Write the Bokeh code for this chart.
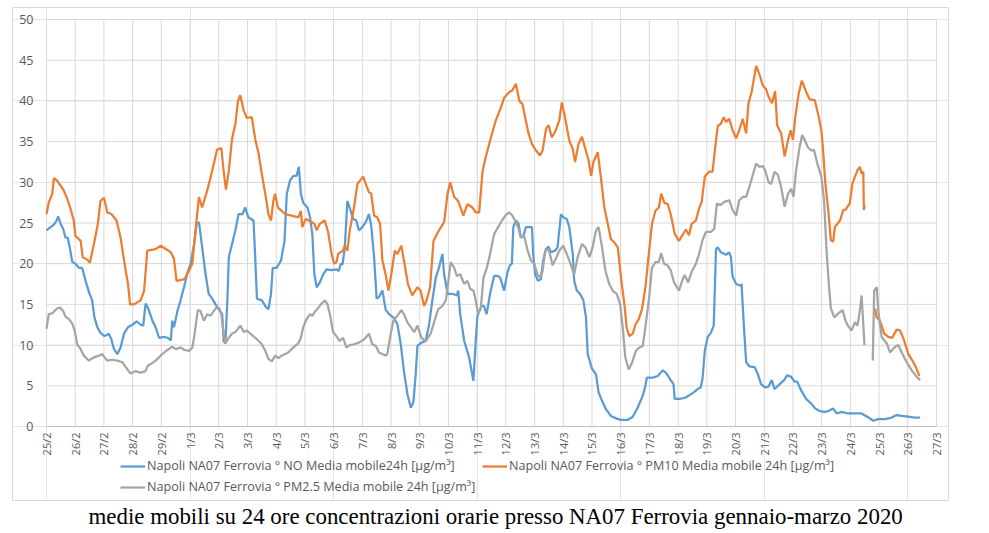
import math
from bokeh.plotting import figure
from bokeh.models import Legend, LegendItem, Range1d, Title
from bokeh.core.properties import value
from bokeh.embed import file_html
from bokeh.resources import INLINE

NAN = float("nan")

# Tick labels (one per day, 25/2 .. 27/3, 2020)
date_labels = ["25/2", "26/2", "27/2", "28/2", "29/2", "1/3", "2/3", "3/3", "4/3", "5/3",
               "6/3", "7/3", "8/3", "9/3", "10/3", "11/3", "12/3", "13/3", "14/3", "15/3",
               "16/3", "17/3", "18/3", "19/3", "20/3", "21/3", "22/3", "23/3", "24/3", "25/3",
               "26/3", "27/3"]
day_ticks = list(range(len(date_labels)))
y_ticks = [0, 5, 10, 15, 20, 25, 30, 35, 40, 45, 50]
y_tick_labels = ["0", "5", "10", "15", "20", "25", "30", "35", "40", "45", "50"]

# NO moving average (days since 25/2, value)
no_days = [0, 0.14, 0.26, 0.35, 0.41, 0.49, 0.58, 0.66, 0.74, 0.81, 0.9, 1.01, 1.13, 1.24, 1.36, 1.48,
           1.59, 1.67, 1.77, 1.88, 2.02, 2.17, 2.26, 2.35, 2.47, 2.58, 2.7, 2.84, 2.99, 3.14, 3.28,
           3.37, 3.45, 3.53, 3.69, 3.8, 3.92, 4.09, 4.21, 4.33, 4.38, 4.44, 4.56, 4.67, 4.79, 4.91,
           5.02, 5.14, 5.23, 5.31, 5.43, 5.54, 5.65, 5.77, 5.89, 6.0, 6.12, 6.17, 6.23, 6.3, 6.35,
           6.46, 6.58, 6.69, 6.83, 6.92, 7.03, 7.21, 7.27, 7.33, 7.5, 7.64, 7.73, 7.82, 7.88, 8.02,
           8.17, 8.29, 8.37, 8.48, 8.6, 8.71, 8.79, 8.86, 8.94, 9.09, 9.18, 9.26, 9.33, 9.41, 9.52,
           9.64, 9.75, 9.93, 10.1, 10.18, 10.25, 10.31, 10.39, 10.48, 10.56, 10.68, 10.79, 10.88,
           11.0, 11.12, 11.23, 11.31, 11.41, 11.5, 11.58, 11.7, 11.81, 11.93, 12.08, 12.22, 12.34,
           12.45, 12.57, 12.69, 12.78, 12.86, 12.92, 13.06, 13.21, 13.33, 13.44, 13.56, 13.67,
           13.79, 13.85, 13.97, 14.14, 14.29, 14.34, 14.41, 14.55, 14.72, 14.87, 14.95, 15.01,
           15.15, 15.24, 15.33, 15.45, 15.59, 15.71, 15.8, 15.94, 16.06, 16.14, 16.21, 16.26,
           16.35, 16.44, 16.52, 16.6, 16.7, 16.79, 16.91, 16.95, 17.02, 17.12, 17.22, 17.3, 17.4,
           17.49, 17.57, 17.72, 17.8, 17.92, 18.0, 18.12, 18.21, 18.33, 18.38, 18.47, 18.58, 18.7,
           18.79, 18.85, 19.0, 19.14, 19.23, 19.37, 19.49, 19.66, 19.84, 20.01, 20.24, 20.42,
           20.59, 20.77, 20.86, 20.91, 21.12, 21.29, 21.47, 21.58, 21.74, 21.84, 21.88, 22.03,
           22.23, 22.38, 22.54, 22.68, 22.79, 22.85, 22.93, 23.03, 23.14, 23.24, 23.32, 23.38,
           23.49, 23.67, 23.78, 23.84, 23.9, 24.02, 24.17, 24.21, 24.28, 24.37, 24.48, 24.66,
           24.77, 24.89, 25.03, 25.15, 25.26, 25.36, 25.54, 25.69, 25.8, 25.94, 26.06, 26.15,
           26.29, 26.46, 26.64, 26.78, 26.93, 27.1, 27.23, 27.4, 27.52, 27.69, 27.93, 28.16,
           28.39, 28.63, 28.8, 28.97, 29.21, 29.44, 29.61, 29.79, 30.02, 30.25, 30.43]
no_vals = [24.1, 24.5, 24.8, 25.3, 25.8, 24.9, 24.3, 23.2, 23.2, 22.0, 20.2, 20.0, 19.5, 19.5, 17.9, 16.5,
           15.5, 13.4, 12.2, 11.5, 11.1, 11.4, 10.7, 9.5, 8.9, 9.7, 11.4, 12.2, 12.5, 12.9, 12.5,
           12.4, 15.1, 14.6, 13.0, 12.2, 10.9, 11.0, 10.9, 10.6, 13.0, 12.2, 14.2, 15.5, 17.1, 18.9,
           20.0, 22.4, 24.9, 25.1, 21.8, 18.7, 16.3, 15.7, 15.0, 14.4, 13.8, 10.5, 10.2, 15.5, 20.8,
           22.4, 24.1, 26.1, 26.1, 26.9, 25.7, 25.3, 20.8, 15.7, 15.5, 14.7, 14.4, 16.3, 19.5, 19.5,
           20.4, 22.8, 28.6, 30.2, 30.8, 30.8, 31.9, 28.6, 27.5, 26.9, 25.7, 23.6, 18.7, 17.1, 17.7,
           18.7, 19.3, 19.2, 19.3, 19.1, 20.0, 19.9, 22.0, 27.7, 26.9, 25.5, 25.3, 24.1,
           24.5, 25.1, 26.1, 24.7, 20.8, 15.7, 15.9, 16.7, 14.4, 13.8, 13.4, 12.6, 10.1,
           6.8, 4.0, 2.3, 3.0, 6.4, 9.9, 10.3, 10.5, 12.6, 15.5, 18.3, 19.5,
           21.2, 18.7, 16.3, 16.3, 16.1, 16.7, 13.8, 10.5, 8.5, 5.6, 10.5, 13.6,
           14.8, 14.8, 13.8, 16.3, 18.5, 18.5, 18.3, 16.7, 19.0, 19.8, 20.0, 24.5,
           25.3, 24.9, 23.3, 23.3, 24.5, 24.5, 24.5, 21.2, 18.7, 17.9, 18.1, 20.4, 21.8,
           22.1, 21.4, 21.6, 22.0, 26.1, 25.7, 25.5, 24.5, 21.2, 17.9, 16.7, 16.3, 15.5,
           13.4, 8.9, 7.1, 6.4, 4.2, 3.0, 2.1, 1.3, 1.0, 0.8, 0.8, 1.2,
           2.3, 3.8, 5.0, 6.0, 6.0, 6.2, 6.9, 6.6, 5.7, 5.2, 3.4, 3.4,
           3.5, 3.8, 4.2, 4.6, 4.8, 5.9, 9.3, 11.0, 11.5, 12.4, 21.8, 22.0,
           21.4, 21.1, 21.4, 20.8, 18.4, 17.5, 17.3, 17.5, 13.0, 7.9, 7.4, 7.3,
           6.5, 5.2, 4.8, 4.9, 5.7, 4.6, 5.2, 5.7, 6.3, 6.1, 5.5, 5.5,
           4.4, 3.4, 2.8, 2.2, 1.9, 1.8, 1.9, 2.2, 1.6, 1.8, 1.6, 1.6,
           1.6, 1.1, 0.7, 0.9, 0.9, 1.1, 1.4, 1.3, 1.2, 1.1, 1.1]

# PM10 moving average
pm10_days = [0, 0.08, 0.2, 0.26, 0.37, 0.49, 0.6, 0.72, 0.84, 0.95, 1.01, 1.19, 1.26, 1.42, 1.51, 1.65,
             1.79, 1.88, 2.0, 2.12, 2.26, 2.44, 2.58, 2.76, 2.84, 2.91, 3.05, 3.28, 3.4, 3.51, 3.8,
             3.98, 4.33, 4.44, 4.53, 4.81, 5.08, 5.2, 5.31, 5.42, 5.6, 5.77, 5.94, 6.09, 6.17, 6.25,
             6.35, 6.46, 6.58, 6.67, 6.75, 6.87, 6.98, 7.15, 7.27, 7.39, 7.5, 7.62, 7.73, 7.82, 7.9,
             7.96, 8.06, 8.19, 8.31, 8.54, 8.77, 8.86, 8.91, 9.03, 9.21, 9.33, 9.41, 9.52, 9.69,
             9.81, 9.93, 10.02, 10.1, 10.16, 10.33, 10.39, 10.48, 10.56, 10.71, 10.83, 11.03, 11.12,
             11.23, 11.31, 11.41, 11.52, 11.62, 11.7, 11.81, 11.91, 12.01, 12.13, 12.22, 12.36,
             12.45, 12.59, 12.74, 12.92, 13.03, 13.15, 13.24, 13.36, 13.48, 13.67, 13.85, 13.97,
             14.06, 14.2, 14.34, 14.52, 14.66, 14.84, 14.95, 15.07, 15.19, 15.3, 15.48, 15.65,
             15.83, 15.94, 16.12, 16.23, 16.35, 16.47, 16.58, 16.67, 16.79, 16.91, 17.05, 17.19,
             17.28, 17.4, 17.49, 17.6, 17.74, 17.86, 17.95, 18.07, 18.21, 18.33, 18.41, 18.53,
             18.65, 18.77, 18.88, 18.97, 19.05, 19.2, 19.31, 19.43, 19.55, 19.66, 19.78, 19.9,
             20.01, 20.13, 20.21, 20.3, 20.42, 20.51, 20.63, 20.74, 20.86, 20.98, 21.09, 21.21,
             21.33, 21.41, 21.52, 21.64, 21.74, 21.88, 22.03, 22.15, 22.27, 22.38, 22.47, 22.62,
             22.73, 22.82, 22.93, 23.08, 23.2, 23.28, 23.38, 23.49, 23.59, 23.67, 23.78, 23.9,
             24.02, 24.13, 24.25, 24.37, 24.45, 24.56, 24.72, 24.83, 24.95, 25.07, 25.15, 25.27,
             25.38, 25.45, 25.59, 25.71, 25.83, 25.92, 26.0, 26.08, 26.2, 26.31, 26.46, 26.58,
             26.76, 26.9, 26.99, 27.05, 27.13, 27.23, 27.32, 27.4, 27.46, 27.64, 27.75, 27.83,
             27.98, 28.07, 28.16, 28.25, 28.33, 28.39, 28.45, 28.47, 28.5, NAN,
             28.86, 28.92, 29.03, 29.18, 29.32, 29.46, 29.61, 29.73, 29.85, 30.02, 30.16, 30.28,
             30.39, 30.43]
pm10_vals = [26.1, 27.5, 28.6, 30.5, 30.2, 29.6, 29.0, 28.0, 26.7, 25.3, 23.4, 22.8, 20.8, 20.5, 20.1, 22.4,
             24.9, 27.7, 28.1, 26.3, 26.1, 25.3, 23.2, 19.1, 17.5, 15.0, 15.0, 15.5, 16.7, 21.6, 21.8,
             22.2, 21.4, 20.6, 17.9, 18.1, 20.0, 24.5, 28.2, 26.9, 29.0, 31.4, 34.0, 34.2, 31.4, 29.1,
             31.4, 35.3, 37.2, 40.0, 40.7, 38.8, 37.9, 38.0, 35.3, 33.5, 31.0, 28.6, 26.1, 25.3, 27.7,
             28.6, 26.9, 26.5, 26.1, 25.9, 25.7, 26.5, 24.5, 25.5, 25.2, 24.9, 24.1, 24.9, 25.3,
             23.9, 21.2, 20.0, 20.2, 21.2, 21.6, 22.2, 21.6, 24.0, 26.9, 29.8, 30.7, 29.8,
             28.8, 28.6, 25.9, 25.7, 24.9, 20.4, 18.7, 16.7, 18.7, 21.6, 21.2, 22.2,
             20.4, 17.5, 16.1, 17.1, 16.7, 14.8, 15.5, 17.1, 22.8, 24.1, 25.1, 28.6,
             30.0, 28.2, 27.7, 25.9, 27.3, 26.9, 26.3, 26.3, 31.4, 33.1, 35.5, 37.6,
             39.2, 40.4, 41.1, 41.3, 42.1, 40.0, 39.6, 38.0, 36.0, 34.7, 33.9, 33.3,
             33.9, 36.6, 37.0, 35.5, 36.4, 37.6, 39.8, 37.8, 35.1, 34.1, 32.5, 34.7,
             35.6, 34.1, 32.7, 30.8, 32.5, 33.7, 30.6, 26.9, 24.9, 23.0, 22.6, 22.0,
             18.3, 15.0, 12.1, 11.1, 11.4, 12.5, 13.2, 14.4, 17.1, 21.2, 24.9, 26.5,
             26.9, 28.6, 27.5, 27.3, 26.1, 23.7, 22.8, 23.5, 24.2, 23.5, 24.9, 25.3,
             26.8, 27.6, 30.7, 31.3, 31.3, 33.9, 36.9, 37.2, 38.0, 37.4, 37.8, 36.4,
             35.4, 36.4, 37.8, 36.0, 39.7, 41.1, 44.3, 43.3, 41.9, 41.4, 40.5, 39.7,
             41.2, 37.0, 36.0, 33.2, 35.2, 36.4, 35.2, 38.0, 40.9, 42.5, 41.1, 40.2,
             40.1, 38.0, 36.4, 33.9, 29.8, 26.6, 22.9, 22.7, 24.5, 25.3, 26.6, 26.6,
             27.4, 29.8, 30.7, 31.5, 31.9, 31.1, 31.3, 26.6, 27.2, NAN,
             14.5, 13.4, 13.0, 11.4, 11.0, 10.9, 11.9, 11.8, 10.8, 8.9, 8.1, 7.3,
             6.3, 6.3]

# PM2.5 moving average
pm25_days = [0, 0.08, 0.2, 0.28, 0.37, 0.47, 0.58, 0.66, 0.78, 0.9, 0.98, 1.07, 1.19, 1.3, 1.48, 1.65,
             1.83, 1.94, 2.0, 2.12, 2.29, 2.47, 2.64, 2.76, 2.93, 3.1, 3.28, 3.45, 3.53, 3.65, 3.8,
             3.92, 4.03, 4.21, 4.38, 4.5, 4.67, 4.81, 4.97, 5.08, 5.16, 5.27, 5.36, 5.48, 5.6, 5.71,
             5.83, 5.94, 6.02, 6.09, 6.17, 6.23, 6.35, 6.46, 6.58, 6.75, 6.87, 6.98, 7.1, 7.27, 7.39,
             7.5, 7.62, 7.73, 7.85, 7.96, 8.08, 8.19, 8.31, 8.42, 8.54, 8.66, 8.77, 8.86, 8.94, 9.06,
             9.18, 9.26, 9.35, 9.47, 9.58, 9.7, 9.79, 9.87, 9.98, 10.1, 10.21, 10.33, 10.45, 10.56,
             10.71, 10.88, 11.06, 11.23, 11.35, 11.47, 11.58, 11.7, 11.81, 11.87, 11.99, 12.08,
             12.22, 12.36, 12.45, 12.57, 12.69, 12.81, 12.92, 13.06, 13.21, 13.38, 13.5, 13.64,
             13.79, 13.91, 13.97, 14.08, 14.2, 14.29, 14.41, 14.55, 14.66, 14.76, 14.87, 14.95,
             15.03, 15.13, 15.22, 15.34, 15.45, 15.59, 15.73, 15.88, 16.0, 16.12, 16.23, 16.35,
             16.44, 16.52, 16.64, 16.76, 16.87, 16.99, 17.1, 17.19, 17.28, 17.37, 17.49, 17.63,
             17.74, 17.86, 18.0, 18.12, 18.23, 18.38, 18.5, 18.65, 18.77, 18.91, 19.02, 19.14,
             19.23, 19.35, 19.47, 19.6, 19.72, 19.86, 19.98, 20.07, 20.16, 20.28, 20.4, 20.53,
             20.65, 20.77, 20.86, 20.98, 21.09, 21.21, 21.33, 21.41, 21.51, 21.63, 21.74, 21.86,
             22.03, 22.15, 22.23, 22.35, 22.47, 22.62, 22.73, 22.85, 22.97, 23.14, 23.26, 23.35,
             23.47, 23.61, 23.78, 23.9, 24.02, 24.13, 24.25, 24.37, 24.48, 24.6, 24.72, 24.83,
             24.95, 25.03, 25.15, 25.24, 25.36, 25.48, 25.59, 25.71, 25.83, 25.94, 26.02, 26.11,
             26.23, 26.32, 26.41, 26.52, 26.64, 26.73, 26.85, 26.99, 27.08, 27.17, 27.25, 27.32,
             27.44, 27.58, 27.73, 27.83, 27.93, 28.04, 28.16, 28.25, 28.33, 28.39, 28.45, 28.49, NAN,
             28.78, 28.83, 28.92, 28.97, 29.09, 29.27, 29.38, 29.56, 29.67, 29.79, 29.96, 30.14,
             30.31, 30.43]
pm25_vals = [12.0, 13.8, 13.9, 14.2, 14.5, 14.6, 14.2, 13.5, 13.2, 12.6, 11.8, 10.1, 9.5, 8.7, 8.1, 8.5,
             8.7, 8.9, 8.6, 8.1, 8.2, 8.1, 7.9, 7.3, 6.5, 6.8, 6.6, 6.8, 7.5, 7.7, 8.1,
             8.5, 8.9, 9.4, 9.8, 9.5, 9.7, 9.4, 9.3, 9.7, 11.4, 14.3, 14.2, 13.0, 13.8, 13.6,
             14.2, 14.7, 14.5, 13.8, 11.4, 10.2, 10.9, 11.4, 11.6, 12.4, 11.6, 11.8, 11.4, 10.9, 10.5,
             10.1, 9.3, 8.3, 8.0, 8.7, 8.4, 8.7, 8.9, 9.1, 9.5, 9.9, 10.2, 10.9, 12.2, 13.2,
             13.8, 13.6, 14.1, 14.6, 15.1, 15.5, 15.0, 13.8, 11.6, 11.1, 10.5, 10.9, 9.7, 10.0,
             10.1, 10.3, 10.7, 11.4, 10.1, 9.9, 9.1, 8.9, 8.7, 8.9, 11.4, 13.0,
             13.6, 14.3, 13.8, 12.8, 12.2, 11.6, 12.4, 10.9, 10.5, 11.4, 12.8, 14.4,
             14.8, 15.5, 17.1, 20.2, 19.5, 18.5, 18.7, 17.5, 17.9, 16.9, 16.7, 15.5,
             13.8, 14.6, 18.3, 19.5, 21.2, 23.6, 24.5, 25.4, 26.0, 26.3, 25.9, 25.1,
             24.3, 23.2, 23.4, 21.6, 20.4, 20.0, 18.7, 18.3, 19.1, 21.6, 21.8, 19.8,
             20.6, 21.6, 22.2, 21.2, 20.2, 18.7, 20.8, 22.4, 22.0, 20.8, 22.0, 24.1,
             24.5, 22.0, 19.1, 17.5, 16.7, 16.3, 15.0, 12.2, 8.5, 7.0, 7.9, 9.3,
             9.7, 9.9, 12.2, 15.5, 19.5, 20.2, 20.2, 21.3, 20.0, 19.8, 19.2, 17.7,
             16.7, 18.0, 18.6, 17.7, 19.0, 20.0, 21.2, 22.9, 23.9, 23.9, 24.3, 27.4,
             27.2, 27.6, 27.8, 26.6, 25.9, 27.8, 28.2, 28.2, 29.4, 30.9, 32.3, 31.9,
             32.0, 31.5, 30.0, 29.8, 31.3, 30.9, 29.4, 27.0, 28.6, 29.2, 28.2, 31.5,
             34.3, 35.8, 35.2, 34.3, 33.9, 34.0, 32.3, 30.7, 28.0, 21.6, 17.5, 14.5,
             13.4, 13.9, 14.3, 13.0, 12.3, 11.8, 12.8, 12.4, 14.3, 16.1, 12.6, 10.0, NAN,
             8.1, 16.7, 17.1, 14.3, 11.0, 10.2, 9.1, 9.8, 10.0, 9.1, 7.9, 6.9,
             6.1, 5.7]

series_labels = ["Napoli NA07 Ferrovia ° NO Media mobile24h [μg/m³]",
                 "Napoli NA07 Ferrovia ° PM10 Media mobile 24h [μg/m³]",
                 "Napoli NA07 Ferrovia ° PM2.5 Media mobile 24h [μg/m³]"]
caption_text = "medie mobili su 24 ore concentrazioni orarie presso NA07 Ferrovia gennaio-marzo 2020"

BLUE, ORANGE, GRAY = "#5b9bd5", "#ed7d31", "#a5a5a5"
TXT = "#595959"
GRID = "#d9d9d9"
FONT = "Open Sans"

# Layout geometry (pixels): chart box 12..948 x 7..500, plot area 46..936 x 19..426
PXD = 890.0 / 31          # px per day
PXV = 407.0 / 50          # px per unit
x_start, x_end = -(46 - 12) / PXD, (948 - 46) / PXD
y_start, y_end = -(500 - 426) / PXV, (426 - 7) / PXV

p = figure(width=970, height=532, x_range=Range1d(x_start, x_end), y_range=Range1d(y_start, y_end),
           output_backend="svg", toolbar_location=None,
           x_axis_location=None, y_axis_location=None,
           min_border_left=12, min_border_right=22, min_border_top=7, min_border_bottom=32)
p.outline_line_color = GRID
p.outline_line_width = 1
p.background_fill_color = "white"
p.border_fill_color = "white"

x0, x1 = day_ticks[0], day_ticks[-1]
y0, y1 = y_ticks[0], y_ticks[-1]
# gridlines
p.segment(x0=day_ticks, y0=[y0] * len(day_ticks), x1=day_ticks, y1=[y1] * len(day_ticks),
          line_color=GRID, line_width=1)
p.segment(x0=[x0] * len(y_ticks), y0=y_ticks, x1=[x1] * len(y_ticks), y1=y_ticks,
          line_color=GRID, line_width=1)
# category axis line
p.segment(x0=[x0], y0=[y0], x1=[x1], y1=[y0], line_color="#bfbfbf", line_width=1)

# tick labels
p.text(x=[x0] * len(y_ticks), y=y_ticks, text=y_tick_labels, x_offset=-13,
       text_align="right", text_baseline="middle",
       text_font=value(FONT), text_font_size="12.5px", text_color=TXT)
p.text(x=day_ticks, y=[y0] * len(day_ticks), text=date_labels, angle=math.pi / 2, y_offset=6,
       text_align="right", text_baseline="middle",
       text_font=value(FONT), text_font_size="11px", text_color=TXT)

r_no = p.line(no_days, no_vals, line_color=BLUE, line_width=2.25)
r_pm10 = p.line(pm10_days, pm10_vals, line_color=ORANGE, line_width=2.25)
r_pm25 = p.line(pm25_days, pm25_vals, line_color=GRAY, line_width=2.25)

legend = Legend(items=[LegendItem(label=series_labels[0], renderers=[r_no]),
                       LegendItem(label=series_labels[1], renderers=[r_pm10]),
                       LegendItem(label=series_labels[2], renderers=[r_pm25])],
                location=(108, 5), orientation="horizontal", ncols=2,
                margin=0, padding=0, spacing=4, glyph_width=25, glyph_height=12,
                label_height=12, label_width=331, label_standoff=2,
                label_text_font=FONT, label_text_font_size="12.6px", label_text_color=TXT,
                border_line_color=None, background_fill_alpha=0)
p.add_layout(legend)

cap = Title(text=caption_text, align="left", offset=76, standoff=2,
            text_font="Liberation Serif", text_font_size="22.9px", text_font_style="normal",
            text_color="black")
p.add_layout(cap, "below")

open("out.html", "w").write(file_html(p, INLINE))
